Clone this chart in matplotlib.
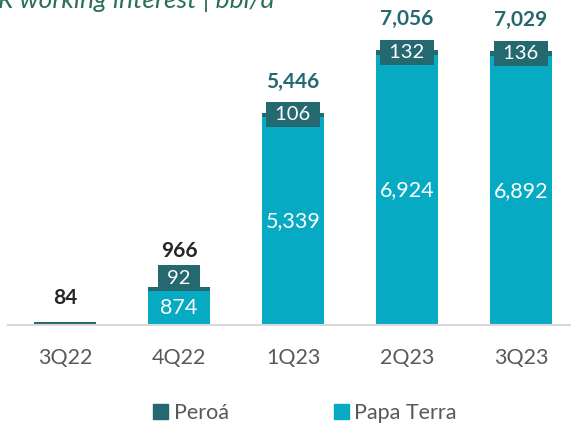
"""Stacked production bars: Peroá and Papa Terra, bbl/d."""

import matplotlib

matplotlib.use("Agg")
import matplotlib.pyplot as plt
import numpy as np

quarters = ["3Q22", "4Q22", "1Q23", "2Q23", "3Q23"]
papa_terra = [0, 874, 5339, 6924, 6892]
peroa = [84, 92, 106, 132, 136]
totals = [84, 966, 5446, 7056, 7029]
total_dark = [True, True, False, False, False]

PAPA = "#07AAC3"
PEROA = "#246870"
GREY = "#595959"

plt.rcParams["font.family"] = ["Lato", "DejaVu Sans"]

fig = plt.figure(figsize=(5.71, 4.23), dpi=100)
# plot area runs a bit past the right edge, like the source slide crop
ax = fig.add_axes([8 / 571, 98 / 423, 570 / 571, 312 / 423])

x = np.arange(len(quarters))
width = 0.55
ax.bar(x, papa_terra, width, color=PAPA, zorder=2)
ax.bar(x, peroa, width, bottom=papa_terra, color=PEROA, zorder=2)

for i in x:
    top = papa_terra[i] + peroa[i]
    if papa_terra[i] > 0:
        ax.text(i, papa_terra[i] / 2, f"{papa_terra[i]:,}", ha="center", va="center",
                color="white", fontsize=15.5, zorder=3)
    # small bars get the Peroá box lifted off the Papa Terra label
    box_lift = 8 if i == 1 else 0
    if i > 0:
        ax.annotate(f" {peroa[i]:,} ", (i, papa_terra[i] + peroa[i] / 2),
                    xytext=(0, box_lift), textcoords="offset points",
                    ha="center", va="center", color="white", fontsize=14.5, zorder=4,
                    bbox=dict(boxstyle="square,pad=0.2", fc=PEROA, ec="none"))
    total_lift = 22 if i > 1 else (26 if i == 1 else 17)
    ax.annotate(f"{totals[i]:,}", (i, top), xytext=(0, total_lift),
                textcoords="offset points", ha="center", va="center",
                color="#262626" if total_dark[i] else PEROA, fontsize=15,
                fontweight="bold", zorder=4)

ax.set_xlim(-0.5, len(quarters) - 0.5)
ax.set_ylim(0, 8000)
ax.set_yticks([])
ax.set_xticks(x)
ax.set_xticklabels(quarters, fontsize=15.5, color=GREY)
ax.tick_params(axis="x", length=0, pad=16.5)
for side in ["top", "right", "left"]:
    ax.spines[side].set_visible(False)
ax.spines["bottom"].set_color("#D9D9D9")
ax.spines["bottom"].set_linewidth(1.5)

handles = [plt.Rectangle((0, 0), 1, 1, color=PEROA), plt.Rectangle((0, 0), 1, 1, color=PAPA)]
fig.legend(handles, ["Peroá", "Papa Terra"], loc="center", ncol=2,
           bbox_to_anchor=(305 / 571, 1 - 413 / 423), frameon=False, fontsize=15.5,
           labelcolor=GREY, handlelength=0.7, handleheight=0.7, handletextpad=0.25,
           columnspacing=4.9)

fig.text(-0.003, 1 - 8 / 423, "R working interest | bbl/d", ha="left", va="baseline",
         fontsize=19, style="italic", color="#2B6E5B")

fig.savefig("out.png", dpi=100)
